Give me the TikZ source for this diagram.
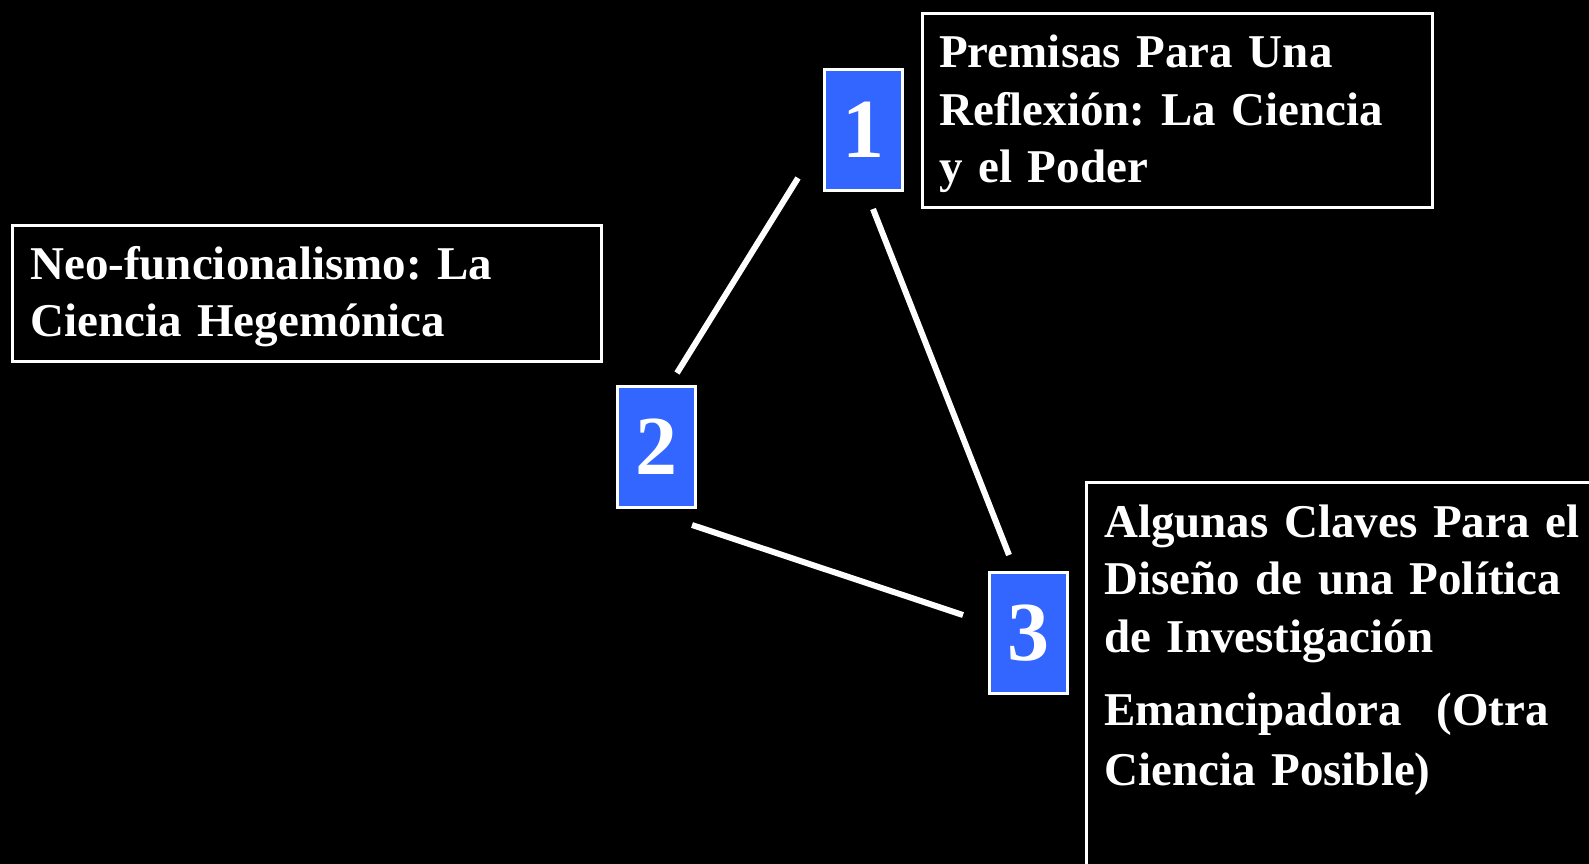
\documentclass[tikz,border=0pt]{standalone}
\usepackage{fontspec}
\setmainfont{Liberation Serif}
\definecolor{numblue}{RGB}{51,102,255}
\tikzstyle{numbox}=[draw=white, line width=3pt, fill=numblue, text=white, inner sep=0pt, minimum width=78pt, minimum height=121pt, font=\fontsize{84}{84}\selectfont\bfseries]
\tikzstyle{frame}=[draw=white, line width=3pt, inner sep=0pt, anchor=north west]
\tikzstyle{txt}=[text=white, inner sep=0pt, anchor=base west, text width=560pt, align=left, font=\fontsize{47}{57.5}\selectfont\bfseries\frenchspacing]
\tikzstyle{link}=[draw=white, line width=6pt]

\begin{document}
\begin{tikzpicture}[x=1pt,y=-1pt]
\fill[black] (0,0) rectangle (1589,864);
\clip (0,0) rectangle (1589,864);
\node[numbox] (n1) at (863,130) {1};
\node[numbox] (n2) at (656,447) {2};
\node[numbox] (n3) at (1028,633) {3};
\node[frame, minimum width=510pt, minimum height=194pt] (f1) at (921,12) {};
\node[frame, minimum width=589pt, minimum height=136pt] (f2) at (11,224) {};
\node[frame, minimum width=600pt, minimum height=500pt] (f3) at (1085,481) {};
\node[txt] (t1) at (939,68) {Premisas Para Una\\Reflexión: La Ciencia\\y el Poder};
\node[txt] (t2) at (30,279) {Neo-funcionalismo: La\\Ciencia Hegemónica};
\node[txt] (t3) at (1104,537) {Algunas Claves Para el\\Diseño de una Política\\de Investigación\\[16pt]Emancipadora\hspace{0.4em} (Otra\\[2.5pt]Ciencia Posible)};
\coordinate (a1) at (798,178);
\coordinate (b1) at (677,373);
\coordinate (a2) at (873,209);
\coordinate (b2) at (1009,555);
\coordinate (a3) at (692,525);
\coordinate (b3) at (963,615);
\draw[link] (a1) -- (b1);
\draw[link] (a2) -- (b2);
\draw[link] (a3) -- (b3);
\end{tikzpicture}
\end{document}
